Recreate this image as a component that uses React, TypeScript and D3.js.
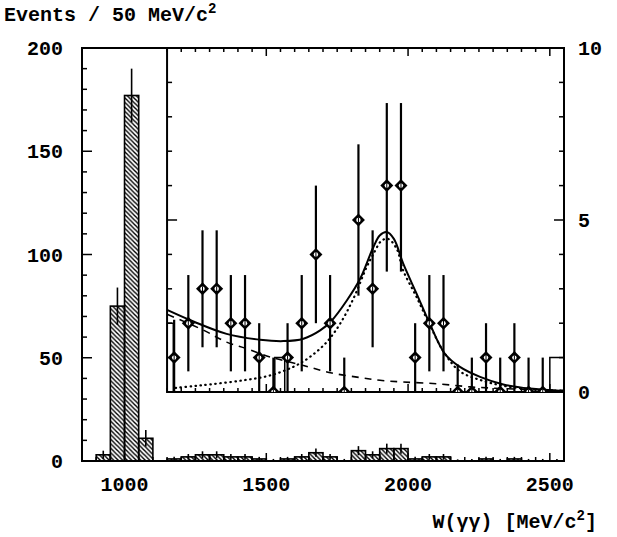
import React from 'react';
import * as d3 from 'd3';

// Main histogram (Events / 50 MeV/c^2), bins below 1150 MeV
const mainBinLow = [900, 950, 1000, 1050, 1100];
const mainCounts = [3, 75, 177, 11, 0];
const mainErrLo = [1, 66, 164, 7, 0];
const mainErrHi = [5, 84, 190, 15, 0];

// Bins shown in the inset (bin centres, MeV)
const insetCenters = [1175, 1225, 1275, 1325, 1375, 1425, 1475, 1525, 1575, 1625, 1675, 1725, 1775, 1825, 1875, 1925, 1975, 2025, 2075, 2125, 2175, 2225, 2275, 2325, 2375, 2425, 2475];
const insetCounts = [1, 2, 3, 3, 2, 2, 1, 0, 1, 2, 4, 2, 0, 5, 3, 6, 6, 1, 2, 2, 0, 0, 1, 0, 1, 0, 0];
const insetErrLo = [0, 0.6, 1.3, 1.3, 0.6, 0.6, 0, 0, 0, 0.6, 2, 0.6, 0, 2.8, 1.3, 3.5, 3.5, 0, 0.6, 0.6, 0, 0, 0, 0, 0, 0, 0];
const insetErrHi = [2.1, 3.4, 4.7, 4.7, 3.4, 3.4, 2, 1, 2, 3.4, 6, 3.4, 1, 7.2, 4.7, 8.4, 8.4, 2, 3.4, 3.4, 0.8, 1, 2, 1, 2, 1, 1];

// Open histogram steps inside the inset: [low, high, value]
const outlineLow = [1150, 1530, 2500];
const outlineHigh = [1172, 1565, 2550];
const outlineVal = [2, 1, 1];

// Fit curves
const totalX = [1152, 1243, 1360, 1478, 1560, 1631, 1690, 1731, 1784, 1831, 1877, 1900, 1925, 1950, 1983, 2030, 2077, 2130, 2183, 2254, 2336, 2430, 2548];
const totalY = [2.38, 2.05, 1.69, 1.52, 1.48, 1.55, 1.79, 2.08, 2.66, 3.29, 4.2, 4.55, 4.65, 4.45, 3.73, 2.86, 1.98, 1.11, 0.73, 0.44, 0.22, 0.1, 0.03];
const signalX = [1180, 1240, 1301, 1419, 1513, 1595, 1654, 1713, 1760, 1807, 1854, 1877, 1907, 1930, 1960, 1983, 2030, 2077, 2130, 2183, 2254, 2336, 2430, 2548];
const signalY = [0.12, 0.17, 0.22, 0.34, 0.48, 0.73, 1.02, 1.45, 1.98, 2.71, 3.63, 4.0, 4.4, 4.45, 4.16, 3.53, 2.76, 1.94, 1.11, 0.6, 0.35, 0.18, 0.08, 0.03];
const bgX = [1152, 1278, 1360, 1431, 1513, 1631, 1731, 1831, 1901, 1983, 2101, 2219, 2336, 2548];
const bgY = [2.25, 1.8, 1.45, 1.26, 1.02, 0.77, 0.55, 0.42, 0.34, 0.29, 0.24, 0.15, 0.1, 0.05];

const yTickLabels = [0, 50, 100, 150, 200];
const xTickLabels = [1000, 1500, 2000, 2500];
const insetTickLabels = [0, 5, 10];

export default function App() {
  const W = 617, H = 537;
  const x = d3.scaleLinear().domain([850, 2550]).range([82, 564]);
  const y = d3.scaleLinear().domain([0, 200]).range([461, 48]);
  const yi = d3.scaleLinear().domain([0, 10]).range([392, 48]);
  const insetL = x(1150), insetR = x(2550), insetT = yi(10), insetB = yi(0);
  const binW = 50;

  const allLow = [...mainBinLow, ...insetCenters.map(c => c - binW / 2), 2500];
  const allCounts = [...mainCounts, ...insetCounts, 0];
  const allLo = [...mainErrLo, ...insetErrLo, 0];
  const allHi = [...mainErrHi, ...insetErrHi, 1];

  const lineGen = (xs: number[], ys: number[]) =>
    d3.line<number>().x((_, i) => x(xs[i])).y((_, i) => yi(ys[i])).curve(d3.curveCatmullRom.alpha(0.5))(xs.map((_, i) => i)) || '';

  const font = "'Liberation Mono', 'Courier New', monospace";
  const minorY = d3.range(0, 201, 10);
  const xTicks = d3.range(850, 2551, 50);
  const insetXTicks = d3.range(1150, 2551, 50);
  const insetYTicks = d3.range(0, 11, 1);

  const diamond = (cx: number, cy: number) => {
    const r = 6.5;
    return `M${cx},${cy - r}L${cx + r},${cy}L${cx},${cy + r}L${cx - r},${cy}Z`;
  };

  const txt = { fontSize: 20, fontWeight: 700 as const };

  return (
    <svg width={W} height={H} style={{ position: 'absolute', left: 0, top: 0, background: '#fff' }} fontFamily={font}>
      <defs>
        <pattern id="hatch" patternUnits="userSpaceOnUse" width={4.5} height={4.5}>
          <path d="M-1,-1 L5.5,5.5 M-1,3.5 L1,5.5 M3.5,-1 L5.5,1" stroke="#000" strokeWidth={1.4} />
        </pattern>
        <clipPath id="insetClip">
          <rect x={insetL} y={insetT} width={insetR - insetL} height={insetB - insetT} />
        </clipPath>
      </defs>
      <rect x={0} y={0} width={W} height={H} fill="#fff" />

      {allLow.map((lo, i) => {
        const c = allCounts[i];
        const x0 = x(lo), x1 = x(lo + binW);
        return (
          <g key={'b' + i}>
            {c > 0 && <rect x={x0} y={y(c)} width={x1 - x0} height={y(0) - y(c)} fill="url(#hatch)" stroke="#000" strokeWidth={1.6} />}
            {allHi[i] > 0 && (
              <line x1={(x0 + x1) / 2} x2={(x0 + x1) / 2} y1={y(allLo[i])} y2={y(allHi[i])} stroke="#000" strokeWidth={1.6} />
            )}
          </g>
        );
      })}

      <rect x={x(850)} y={y(200)} width={x(2550) - x(850)} height={y(0) - y(200)} fill="none" stroke="#000" strokeWidth={2} />
      {minorY.map(v => (
        <line key={'ly' + v} x1={x(850)} x2={x(850) + (v % 50 === 0 ? 10 : 5)} y1={y(v)} y2={y(v)} stroke="#000" strokeWidth={1.5} />
      ))}
      {xTicks.map(v => (
        <line key={'bx' + v} x1={x(v)} x2={x(v)} y1={y(0)} y2={y(0) - (v % 500 === 0 ? 8 : 4)} stroke="#000" strokeWidth={1.5} />
      ))}

      <rect x={insetL} y={insetT} width={insetR - insetL} height={insetB - insetT} fill="#fff" stroke="#000" strokeWidth={2} />
      {insetYTicks.map(v => (
        <g key={'iy' + v}>
          <line x1={insetL} x2={insetL + (v % 5 === 0 ? 10 : 5)} y1={yi(v)} y2={yi(v)} stroke="#000" strokeWidth={1.5} />
          <line x1={insetR} x2={insetR - (v % 5 === 0 ? 10 : 5)} y1={yi(v)} y2={yi(v)} stroke="#000" strokeWidth={1.5} />
        </g>
      ))}
      {insetXTicks.map(v => (
        <g key={'ix' + v}>
          <line x1={x(v)} x2={x(v)} y1={insetT} y2={insetT + (v % 500 === 0 ? 8 : 4)} stroke="#000" strokeWidth={1.5} />
          <line x1={x(v)} x2={x(v)} y1={insetB} y2={insetB - (v % 500 === 0 ? 8 : 4)} stroke="#000" strokeWidth={1.5} />
        </g>
      ))}

      <g clipPath="url(#insetClip)">
        {outlineLow.map((lo, i) => (
          <path key={'o' + i} d={`M${x(lo)},${yi(0)}V${yi(outlineVal[i])}H${x(outlineHigh[i])}V${yi(0)}`} fill="none" stroke="#000" strokeWidth={1.5} />
        ))}
        <path d={lineGen(bgX, bgY)} fill="none" stroke="#000" strokeWidth={1.6} strokeDasharray="7 6" />
        <path d={lineGen(signalX, signalY)} fill="none" stroke="#000" strokeWidth={2.2} strokeDasharray="0.5 4.5" strokeLinecap="round" />
        <path d={lineGen(totalX, totalY)} fill="none" stroke="#000" strokeWidth={2} />
        {insetCenters.map((c, i) => (
          <g key={'p' + i}>
            <line x1={x(c)} x2={x(c)} y1={yi(insetErrLo[i])} y2={yi(insetErrHi[i])} stroke="#000" strokeWidth={2.2} />
            <path d={diamond(x(c), yi(insetCounts[i]))} fill="#000" />
            <circle cx={x(c)} cy={yi(insetCounts[i])} r={2.2} fill="#fff" />
            <line x1={x(c)} x2={x(c)} y1={yi(insetCounts[i]) - 2.2} y2={yi(insetCounts[i]) + 2.2} stroke="#000" strokeWidth={1} />
          </g>
        ))}
      </g>

      <text x={4} y={21} {...txt}>Events / 50 MeV/c<tspan dy={-8} fontSize={14}>2</tspan></text>
      {yTickLabels.map(v => (
        <text key={'yl' + v} x={63} y={y(v)} dy="0.36em" textAnchor="end" {...txt}>{v}</text>
      ))}
      {insetTickLabels.map(v => (
        <text key={'il' + v} x={578} y={yi(v)} dy="0.36em" textAnchor="start" {...txt}>{v}</text>
      ))}
      {xTickLabels.map(v => (
        <text key={'xl' + v} x={x(v)} y={491} textAnchor="middle" {...txt}>{v}</text>
      ))}
      <text x={597} y={528} textAnchor="end" {...txt}>W(γγ) [MeV/c<tspan dy={-8} fontSize={14}>2</tspan><tspan dy={8}>]</tspan></text>
    </svg>
  );
}
